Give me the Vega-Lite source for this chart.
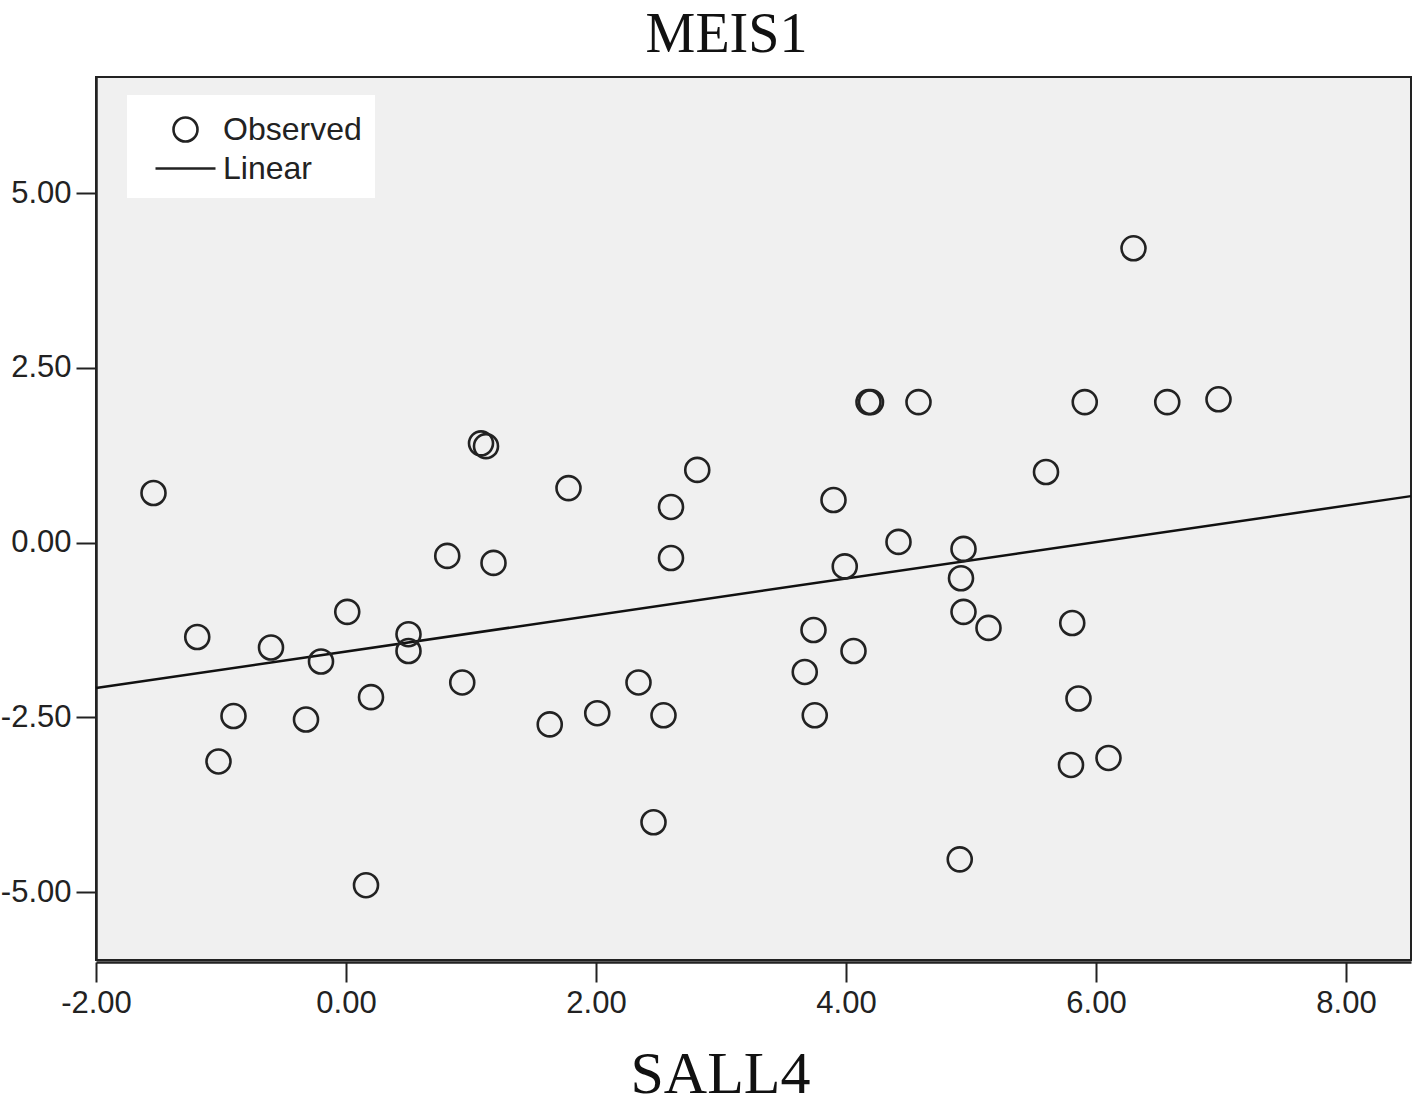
{
  "$schema": "https://vega.github.io/schema/vega-lite/v6.json",
  "autosize": "none",
  "width": 1315,
  "height": 883,
  "padding": {"left": 96, "top": 77, "right": 7, "bottom": 144},
  "background": "white",
  "title": {"text": "MEIS1", "font": "Liberation Serif", "fontSize": 56, "fontWeight": "normal", "color": "#111", "anchor": "middle", "dx": -27, "offset": 13},
  "config": {
    "view": {"fill": "#f0f0f0", "stroke": "#222", "strokeWidth": 2},
    "axis": {"grid": false, "labelFont": "Liberation Sans", "labelFontSize": 31, "labelColor": "#222", "tickSize": 20, "tickColor": "#222", "tickWidth": 2, "domainColor": "#222", "domainWidth": 2.5, "labelFlush": false, "labelOverlap": false, "labelBound": false}
  },
  "layer": [
    {
      "data": {"values": [{"x": -2, "y": -2.08}, {"x": 8.52, "y": 0.665}]},
      "mark": {"type": "line", "color": "#111", "strokeWidth": 2.5},
      "encoding": {
        "x": {"field": "x", "type": "quantitative", "scale": {"domain": [-2, 8.52], "nice": false, "zero": false},
          "axis": {"values": [-2, 0, 2, 4, 6, 8], "format": ".2f", "labelExpr": "replace(datum.label, '\u2212', '-')", "title": "SALL4", "titleFont": "Liberation Serif", "titleFontSize": 60, "titleFontWeight": "normal", "titleColor": "#111", "titleBaseline": "alphabetic", "titleY": 130, "titleX": 624, "labelPadding": 6, "offset": 2}},
        "y": {"field": "y", "type": "quantitative", "scale": {"domain": [-5.97, 6.66], "nice": false, "zero": false},
          "axis": {"values": [-5, -2.5, 0, 2.5, 5], "format": ".2f", "labelExpr": "replace(datum.label, '\u2212', '-')", "title": null, "labelPadding": 5}}
      }
    },
    {
      "data": {"values": [
        {"series": "Observed", "x": -1.54, "y": 0.71},
        {"series": "Observed", "x": -1.19, "y": -1.35},
        {"series": "Observed", "x": -1.02, "y": -3.13},
        {"series": "Observed", "x": -0.9, "y": -2.48},
        {"series": "Observed", "x": -0.6, "y": -1.5},
        {"series": "Observed", "x": -0.32, "y": -2.53},
        {"series": "Observed", "x": -0.2, "y": -1.7},
        {"series": "Observed", "x": 0.01, "y": -0.99},
        {"series": "Observed", "x": 0.16, "y": -4.9},
        {"series": "Observed", "x": 0.2, "y": -2.21},
        {"series": "Observed", "x": 0.5, "y": -1.31},
        {"series": "Observed", "x": 0.5, "y": -1.55},
        {"series": "Observed", "x": 0.81, "y": -0.19},
        {"series": "Observed", "x": 0.93, "y": -2.0},
        {"series": "Observed", "x": 1.08, "y": 1.42},
        {"series": "Observed", "x": 1.12, "y": 1.38},
        {"series": "Observed", "x": 1.18, "y": -0.29},
        {"series": "Observed", "x": 1.78, "y": 0.78},
        {"series": "Observed", "x": 1.63, "y": -2.6},
        {"series": "Observed", "x": 2.01, "y": -2.44},
        {"series": "Observed", "x": 2.34, "y": -2.0},
        {"series": "Observed", "x": 2.46, "y": -4.0},
        {"series": "Observed", "x": 2.54, "y": -2.47},
        {"series": "Observed", "x": 2.6, "y": 0.51},
        {"series": "Observed", "x": 2.6, "y": -0.22},
        {"series": "Observed", "x": 2.81, "y": 1.04},
        {"series": "Observed", "x": 3.67, "y": -1.85},
        {"series": "Observed", "x": 3.74, "y": -1.25},
        {"series": "Observed", "x": 3.75, "y": -2.47},
        {"series": "Observed", "x": 3.9, "y": 0.61},
        {"series": "Observed", "x": 3.99, "y": -0.34},
        {"series": "Observed", "x": 4.06, "y": -1.55},
        {"series": "Observed", "x": 4.18, "y": 2.01},
        {"series": "Observed", "x": 4.2, "y": 2.01},
        {"series": "Observed", "x": 4.42, "y": 0.01},
        {"series": "Observed", "x": 4.58, "y": 2.01},
        {"series": "Observed", "x": 4.91, "y": -4.53},
        {"series": "Observed", "x": 4.94, "y": -0.09},
        {"series": "Observed", "x": 4.92, "y": -0.51},
        {"series": "Observed", "x": 4.94, "y": -0.99},
        {"series": "Observed", "x": 5.14, "y": -1.22},
        {"series": "Observed", "x": 5.6, "y": 1.01},
        {"series": "Observed", "x": 5.81, "y": -1.15},
        {"series": "Observed", "x": 5.86, "y": -2.23},
        {"series": "Observed", "x": 5.8, "y": -3.18},
        {"series": "Observed", "x": 5.91, "y": 2.01},
        {"series": "Observed", "x": 6.1, "y": -3.08},
        {"series": "Observed", "x": 6.3, "y": 4.21},
        {"series": "Observed", "x": 6.57, "y": 2.01},
        {"series": "Observed", "x": 6.98, "y": 2.05}
      ]},
      "mark": {"type": "point", "filled": false, "stroke": "#222", "strokeWidth": 2.6, "size": 1600, "opacity": 1},
      "encoding": {
        "x": {"field": "x", "type": "quantitative"},
        "y": {"field": "y", "type": "quantitative"},
        "shape": {"field": "series", "type": "nominal",
          "scale": {"domain": ["Observed", "Linear"], "range": ["M0.6,0A0.6,0.6 0 1,1 -0.6,0A0.6,0.6 0 1,1 0.6,0Z", "M-1.5,0H1.5"]},
          "legend": {"title": null, "orient": "none", "legendX": 31, "legendY": 18, "fillColor": "white", "padding": 13, "labelFont": "Liberation Sans", "labelFontSize": 32, "labelColor": "#222", "symbolSize": 1600, "symbolStrokeColor": "#222", "symbolStrokeWidth": 2.6, "symbolFillColor": "transparent", "symbolOffset": 24, "rowPadding": 0, "labelOffset": 16}}
      }
    }
  ]
}
